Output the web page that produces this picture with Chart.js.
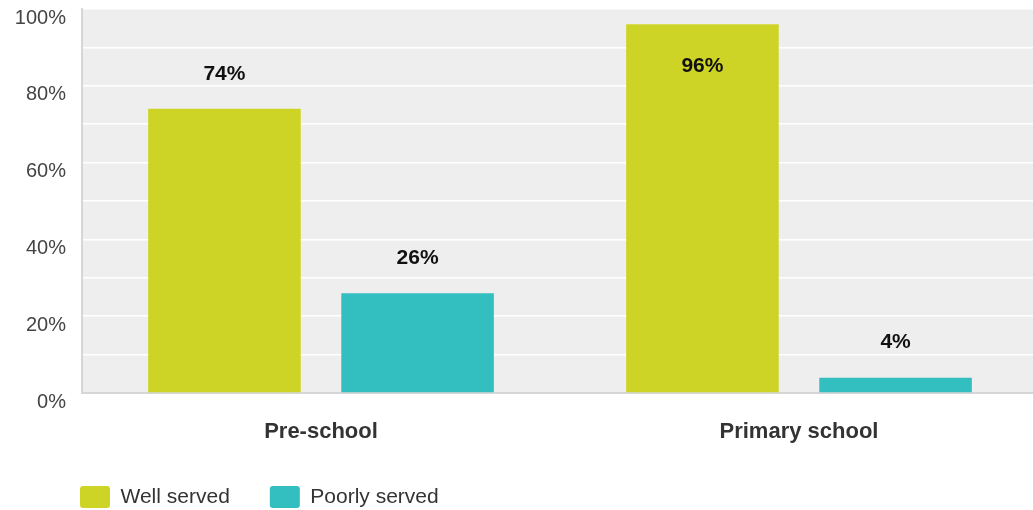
<!DOCTYPE html>
<html>
<head>
<meta charset="utf-8">
<script src="https://cdn.jsdelivr.net/npm/chart.js@4"></script>
<style>
  html, body { margin: 0; padding: 0; background: #fff; overflow: hidden; }
  #wrap { width: 1033px; height: 510px; overflow: hidden; }
</style>
</head>
<body>
<div id="wrap"><canvas id="chart" width="1038" height="510"></canvas></div>
<script>
const categories = ['Pre-school', 'Primary school'];
const wellServed = [74, 96];
const poorlyServed = [26, 4];
const seriesNames = ['Well served', 'Poorly served'];
const yTicks = [0, 20, 40, 60, 80, 100];

const FONT = '"Liberation Sans", Arial, sans-serif';

// grey plot area behind the grid
const plotBg = {
  id: 'plotBg',
  beforeDraw(chart) {
    const a = chart.chartArea;
    const ctx = chart.ctx;
    ctx.save();
    ctx.fillStyle = '#eeeeee';
    ctx.fillRect(a.left, a.top, a.right - a.left, a.bottom - a.top);
    ctx.restore();
  }
};

// legend starts under the plot, not at the canvas edge
const legendShift = {
  id: 'legendShift',
  afterLayout(chart) {
    if (chart.legend) chart.legend.left = 40;
  }
};

// value labels above bars (inside when no room)
const valueLabels = {
  id: 'valueLabels',
  afterDatasetsDraw(chart) {
    const ctx = chart.ctx;
    ctx.save();
    ctx.font = 'bold 21px ' + FONT;
    ctx.fillStyle = '#111';
    ctx.textAlign = 'center';
    ctx.textBaseline = 'middle';
    chart.data.datasets.forEach((ds, i) => {
      chart.getDatasetMeta(i).data.forEach((bar, j) => {
        let y = bar.y - 35;
        if (y - 14 < chart.chartArea.top) y = bar.y + 42;
        ctx.fillText(ds.data[j] + '%', bar.x, y);
      });
    });
    ctx.restore();
  }
};

new Chart(document.getElementById('chart'), {
  type: 'bar',
  data: {
    labels: categories,
    datasets: [
      { label: seriesNames[0], data: wellServed, backgroundColor: '#ced426' },
      { label: seriesNames[1], data: poorlyServed, backgroundColor: '#33bec0' }
    ]
  },
  options: {
    responsive: false,
    animation: false,
    layout: { padding: { top: 9, left: 13, right: 0, bottom: 0 } },
    datasets: { bar: { categoryPercentage: 0.808, barPercentage: 0.79 } },
    scales: {
      x: {
        grid: { display: false, drawTicks: false },
        border: { display: true, color: '#d6d6d6', width: 2 },
        ticks: { padding: 26, color: '#333', font: { family: FONT, size: 22, weight: 'bold' } },
        afterFit(scale) { scale.height = 53; }
      },
      y: {
        min: 0,
        max: 100,
        grid: { color: ctx => (ctx.tick && ctx.tick.value === 0 ? 'rgba(0,0,0,0)' : '#ffffff'), lineWidth: 1.5, drawTicks: false },
        border: { display: true, color: '#d6d6d6', width: 2 },
        ticks: {
          stepSize: 10,
          padding: 16,
          labelOffset: 9,
          color: '#444',
          font: { family: FONT, size: 20, lineHeight: 1 },
          callback: v => (yTicks.includes(v) ? v + '%' : '')
        },
        afterFit(scale) {
          scale.width = 69;
          scale.paddingTop = 0;
          scale.paddingBottom = 0;
        }
      }
    },
    plugins: {
      legend: {
        position: 'bottom',
        align: 'start',
        maxHeight: 64,
        labels: {
          boxWidth: 30,
          boxHeight: 22,
          padding: 40,
          color: '#333',
          useBorderRadius: true,
          borderRadius: 3,
          font: { family: FONT, size: 21 }
        }
      },
      tooltip: { enabled: false }
    }
  },
  plugins: [plotBg, legendShift, valueLabels]
});
</script>
</body>
</html>
